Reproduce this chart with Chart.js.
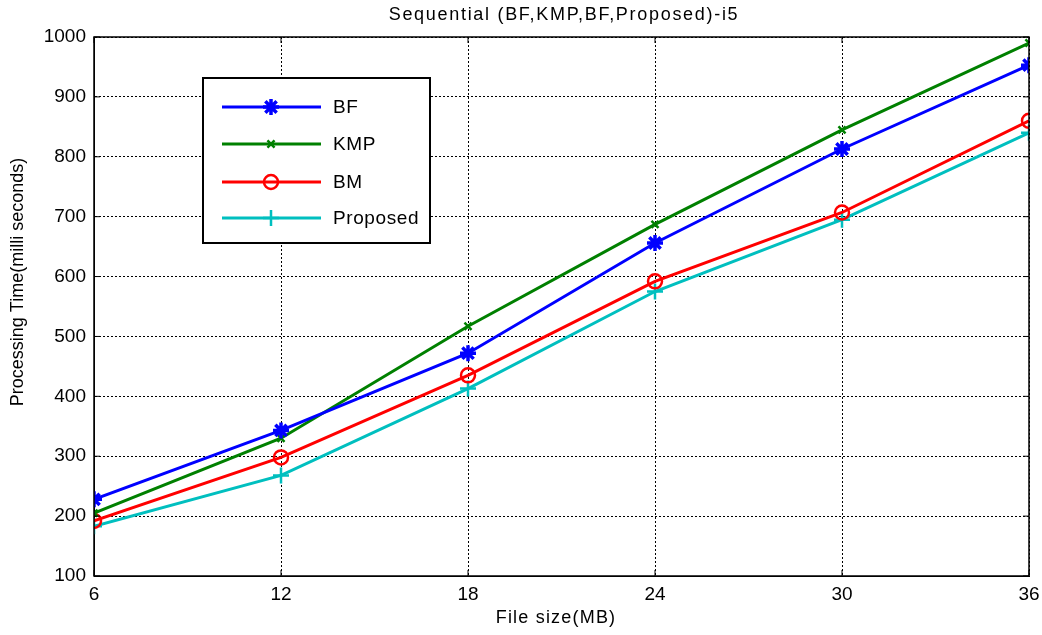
<!DOCTYPE html>
<html><head><meta charset="utf-8">
<script src="https://cdn.jsdelivr.net/npm/chart.js@4"></script>
<style>html,body{margin:0;padding:0;background:#fff}#wrap{width:1042px;height:635px}</style>
</head><body><div id="wrap"><canvas id="c" width="1042" height="635"></canvas></div>
<script>
const fileSizes = [6, 12, 18, 24, 30, 36];
const bfTimes = [228, 343, 472, 656, 813, 953];
const kmpTimes = [205, 330, 517, 687, 845, 990];
const bmTimes = [192, 298, 435, 592, 707, 860];
const proposedTimes = [183, 268, 413, 575, 695, 840];
const seriesLabels = ['BF', 'KMP', 'BM', 'Proposed'];
const yTicks = [100,200,300,400,500,600,700,800,900,1000];
const chartTitle = 'Sequential (BF,KMP,BF,Proposed)-i5';
const xTitle = 'File size(MB)';
const yTitle = 'Processing Time(milli seconds)';

const FONT = '"Liberation Sans", Arial, sans-serif';
const colors = ['#0000ff', '#008000', '#ff0000', '#00bfbf'];
const styles = [
  {pointStyle:'star', pointRadius:8, pointBorderWidth:3.5},
  {pointStyle:'crossRot', pointRadius:5, pointBorderWidth:2.5},
  {pointStyle:'circle', pointRadius:7, pointBorderWidth:2.5},
  {pointStyle:'cross', pointRadius:8, pointBorderWidth:2.5}
];
const allData = [bfTimes, kmpTimes, bmTimes, proposedTimes];

const datasets = allData.map((d,i)=>Object.assign({
  label: seriesLabels[i],
  data: fileSizes.map((x,j)=>({x, y:d[j]})),
  borderColor: colors[i],
  backgroundColor: 'rgba(0,0,0,0)',
  pointBorderColor: colors[i],
  pointBackgroundColor: 'rgba(0,0,0,0)',
  borderWidth: 3,
  tension: 0
}, styles[i]));

const framePlugin = {
  id:'frame',
  afterDraw(chart){
    const {ctx, chartArea:a, scales} = chart;
    ctx.save();
    ctx.strokeStyle='#000'; ctx.lineWidth=1.5;
    ctx.strokeRect(a.left, a.top, a.right-a.left, a.bottom-a.top);
    ctx.lineWidth=1;
    fileSizes.forEach(v=>{const x=scales.x.getPixelForValue(v);
      ctx.beginPath();ctx.moveTo(x,a.bottom);ctx.lineTo(x,a.bottom-6);ctx.moveTo(x,a.top);ctx.lineTo(x,a.top+6);ctx.stroke();});
    yTicks.forEach(v=>{const y=scales.y.getPixelForValue(v);
      ctx.beginPath();ctx.moveTo(a.left,y);ctx.lineTo(a.left+6,y);ctx.moveTo(a.right,y);ctx.lineTo(a.right-6,y);ctx.stroke();});
    ctx.fillStyle='#000'; ctx.textAlign='center'; ctx.textBaseline='middle';
    ctx.font='18px '+FONT; ctx.letterSpacing='1.7px';
    ctx.fillText(chartTitle, 564, 15);
    ctx.font='18px '+FONT; ctx.letterSpacing='1.2px';
    ctx.fillText(xTitle, 556, 618);
    ctx.letterSpacing='0px';
    ctx.save(); ctx.translate(18, 282); ctx.rotate(-Math.PI/2);
    ctx.fillText(yTitle, 0, 0); ctx.restore();
    // legend
    const lx=203, ly=78, lw=227, lh=165;
    ctx.fillStyle='#fff'; ctx.fillRect(lx,ly,lw,lh);
    ctx.strokeStyle='#000'; ctx.lineWidth=2; ctx.strokeRect(lx,ly,lw,lh);
    const rows=[107,144,182,218];
    chart.data.datasets.forEach((ds,i)=>{
      const y=rows[i];
      ctx.strokeStyle=ds.borderColor; ctx.lineWidth=3;
      ctx.beginPath(); ctx.moveTo(222,y); ctx.lineTo(321,y); ctx.stroke();
      ctx.fillStyle='rgba(0,0,0,0)'; ctx.lineWidth=ds.pointBorderWidth;
      Chart.helpers.drawPoint(ctx,{pointStyle:ds.pointStyle, radius:ds.pointRadius, borderWidth:ds.pointBorderWidth, rotation:0}, 271, y);
      ctx.fillStyle='#000'; ctx.font='19px '+FONT; ctx.letterSpacing='0.6px'; ctx.textAlign='left'; ctx.textBaseline='middle';
      ctx.fillText(ds.label, 333, y+1);
      ctx.letterSpacing='0px';
    });
    ctx.restore();
  }
};

new Chart(document.getElementById('c'), {
  type:'line',
  data:{datasets},
  plugins:[framePlugin],
  options:{
    responsive:false, animation:false, devicePixelRatio:1,
    layout:{padding:{top:37,right:13,left:0,bottom:0}},
    plugins:{legend:{display:false}, title:{display:false}, tooltip:{enabled:false}},
    scales:{
      x:{type:'linear', min:6, max:36,
        afterBuildTicks(s){s.ticks=fileSizes.map(v=>({value:v}));},
        afterFit(s){s.height=59; s.paddingLeft=0; s.paddingRight=0;},
        grid:{color:'#000', lineWidth:1, drawTicks:false},
        border:{display:true, color:'#000', dash:[2,2]},
        ticks:{color:'#000', font:{family:FONT, size:19}, padding:7, maxRotation:0},
        title:{display:false}
      },
      y:{type:'linear', min:100, max:1000,
        afterBuildTicks(s){s.ticks=yTicks.map(v=>({value:v}));},
        afterFit(s){s.width=94; s.paddingTop=0; s.paddingBottom=0;},
        grid:{color:'#000', lineWidth:1, drawTicks:false},
        border:{display:true, color:'#000', dash:[2,2]},
        ticks:{color:'#000', font:{family:FONT, size:19}, padding:8, callback:v=>String(v)},
        title:{display:false}
      }
    }
  }
});
</script></body></html>
